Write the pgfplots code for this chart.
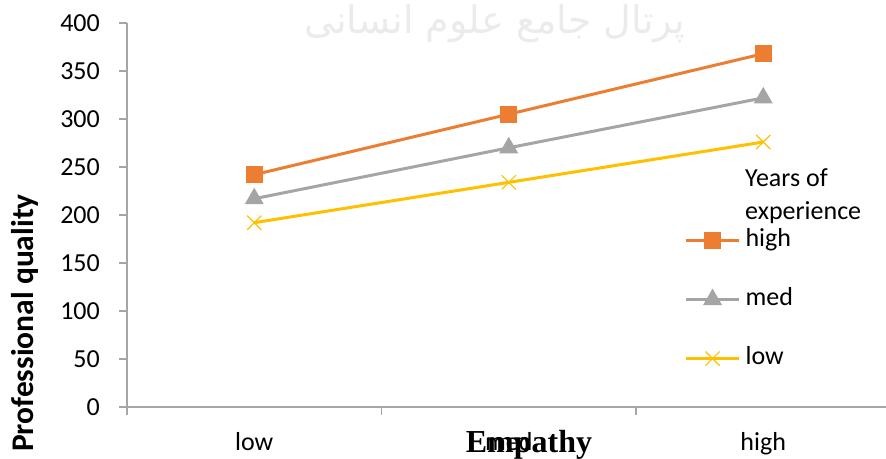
\documentclass[border=0pt]{standalone}
\usepackage{fontspec}
\setmainfont{Carlito}
\newfontfamily\timesfont{Liberation Serif}
\newfontfamily\arabicfont[Script=Arabic]{DejaVu Sans}
\TeXXeTstate=1
\usepackage{pgfplots}
\pgfplotsset{compat=1.18}
\definecolor{cHigh}{HTML}{ED7D31}
\definecolor{cMed}{HTML}{A5A5A5}
\definecolor{cLow}{HTML}{FFC000}
\definecolor{cAxis}{HTML}{A6A6A6}
\begin{document}
\begin{tikzpicture}
\useasboundingbox (0,0) rectangle (886pt,458pt);
\node[text=black!8, font=\arabicfont\fontsize{38}{44}\selectfont, anchor=base] at (495pt,424pt) {\beginR پرتال جامع علوم انسانی\endR};
\begin{axis}[
  at={(127pt,51pt)}, anchor=south west,
  scale only axis, width=763.5pt, height=384pt,
  xmin=0, xmax=3, ymin=0, ymax=400,
  axis x line*=bottom, axis y line*=left,
  axis line style={cAxis, line width=1.3pt},
  ytick={0,50,...,400},
  xtick={0,1,2}, xticklabels={},
  extra x ticks={0.5,1.5,2.5},
  extra x tick labels={low,med,high},
  extra x tick style={major tick length=0pt, tick label style={anchor=base, yshift=-43pt, inner sep=0pt}},
  tick align=outside, major tick length=8pt,
  tick style={cAxis, line width=1.1pt},
  /pgf/number format/assume math mode=true,
  ticklabel style={font=\fontsize{26}{30}\selectfont},
  yticklabel style={anchor=east, inner sep=0pt, xshift=-19pt},
  clip=false,
  legend cell align=left,
  legend style={draw=none, fill=none, at={(axis cs:2.19,184.5)}, anchor=north west,
    inner sep=0pt, row sep=38pt, column sep=5pt,
    nodes={inner sep=0pt, text height=16pt, text depth=5pt, font=\fontsize{26}{30}\selectfont}},
  legend image code/.code={\draw[mark repeat=2,mark phase=2] plot coordinates {(0pt,0pt) (26.5pt,0pt) (53pt,0pt)};},
]
\addplot[color=cHigh, line width=3pt, mark=square*, mark size=7pt, mark options={solid}] coordinates {(0.5,242) (1.5,305) (2.5,368)};
\addlegendentry{high}
\addplot[color=cMed, line width=3pt, mark=triangle*, mark size=8pt, mark options={solid}] coordinates {(0.5,217) (1.5,270) (2.5,322)};
\addlegendentry{med}
\addplot[color=cLow, line width=3pt, mark=x, mark size=10pt, mark options={solid, line width=1.2pt}] coordinates {(0.5,192) (1.5,234) (2.5,276)};
\addlegendentry{low}
\end{axis}
\node[anchor=base west, font=\fontsize{26}{30}\selectfont, inner sep=0pt] at (745pt,271pt) {Years of};
\node[anchor=base west, font=\fontsize{26}{30}\selectfont, inner sep=0pt] at (745pt,238pt) {experience};
\node[rotate=90, font=\bfseries\fontsize{31.5}{36}\selectfont, inner sep=0pt] at (25pt,135pt) {Professional quality};
\node[anchor=base, font=\timesfont\bfseries\fontsize{32}{38}\selectfont, inner sep=0pt] at (529pt,6pt) {Empathy};
\end{tikzpicture}
\end{document}
